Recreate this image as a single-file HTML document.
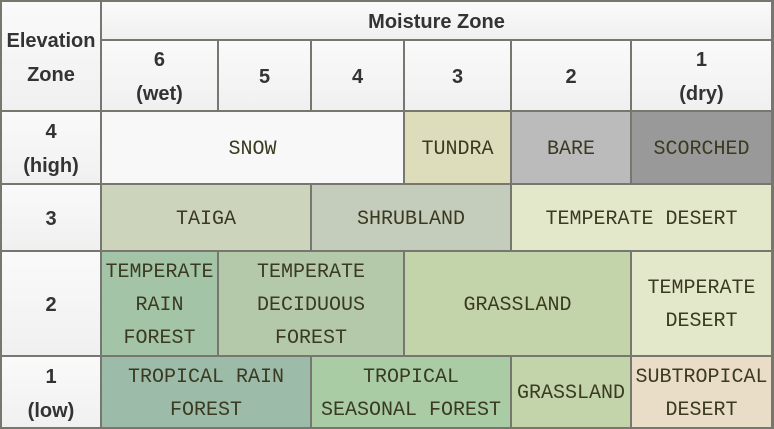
<!DOCTYPE html>
<html><head><meta charset="utf-8"><style>
body{margin:0;width:774px;height:429px;background:#fff;overflow:hidden}
#t{position:absolute;left:0;top:0;width:774px;height:429px;background:#777770}
.c{position:absolute;display:flex;align-items:center;justify-content:center;text-align:center;box-sizing:border-box;padding-top:3px}
.h{background:linear-gradient(#fafafa,#f0f0f0);font-family:"Liberation Sans","DejaVu Sans",sans-serif;font-weight:bold;font-size:20px;color:#333;line-height:34px}
.b{font-family:"Liberation Mono","DejaVu Sans Mono",monospace;font-size:20px;color:#3a3a20;line-height:33px}
</style></head><body>
<div id="t"></div>
<script>
const xs=[1,101,218,311,404,511,631,772];
const ys=[1,40,111,184,251,356,428];
const cells=[
 [0,1,0,2,'h','Elevation<br>Zone','elevation-zone-header',''],
 [1,7,0,1,'h','Moisture Zone','moisture-zone-header',''],
 [1,2,1,2,'h','6<br>(wet)','moisture-6',''],
 [2,3,1,2,'h','5','moisture-5',''],
 [3,4,1,2,'h','4','moisture-4',''],
 [4,5,1,2,'h','3','moisture-3',''],
 [5,6,1,2,'h','2','moisture-2',''],
 [6,7,1,2,'h','1<br>(dry)','moisture-1',''],
 [0,1,2,3,'h','4<br>(high)','elevation-4',''],
 [0,1,3,4,'h','3','elevation-3',''],
 [0,1,4,5,'h','2','elevation-2',''],
 [0,1,5,6,'h','1<br>(low)','elevation-1',''],
 [1,4,2,3,'b','SNOW','snow','#f8f8f8'],
 [4,5,2,3,'b','TUNDRA','tundra','#ddddbb'],
 [5,6,2,3,'b','BARE','bare','#bbbbbb'],
 [6,7,2,3,'b','SCORCHED','scorched','#999999'],
 [1,3,3,4,'b','TAIGA','taiga','#ccd4bb'],
 [3,5,3,4,'b','SHRUBLAND','shrubland','#c4ccbb'],
 [5,7,3,4,'b','TEMPERATE DESERT','temperate-desert-high','#e4e8ca'],
 [1,2,4,5,'b','TEMPERATE<br>RAIN<br>FOREST','temperate-rain-forest','#a4c4a8'],
 [2,4,4,5,'b','TEMPERATE<br>DECIDUOUS<br>FOREST','temperate-deciduous-forest','#b4c9a9'],
 [4,6,4,5,'b','GRASSLAND','grassland-mid','#c4d4aa'],
 [6,7,4,5,'b','TEMPERATE<br>DESERT','temperate-desert','#e4e8ca'],
 [1,3,5,6,'b','TROPICAL RAIN<br>FOREST','tropical-rain-forest','#9cbba9'],
 [3,5,5,6,'b','TROPICAL<br>SEASONAL FOREST','tropical-seasonal-forest','#a9cca4'],
 [5,6,5,6,'b','GRASSLAND','grassland-low','#c4d4aa'],
 [6,7,5,6,'b','SUBTROPICAL<br>DESERT','subtropical-desert','#e9ddc7']
];
const t=document.getElementById('t');
for(const [c0,c1,r0,r1,k,txt,nm,bg] of cells){
 const d=document.createElement('div');
 d.className='c '+k;
 
 
 d.style.left=(xs[c0]+1)+'px';d.style.top=(ys[r0]+1)+'px';
 d.style.width=(xs[c1]-xs[c0]-2)+'px';d.style.height=(ys[r1]-ys[r0]-2)+'px';
 if(bg)d.style.background=bg;
 d.innerHTML=txt;t.appendChild(d);
}
</script>
</body></html>
